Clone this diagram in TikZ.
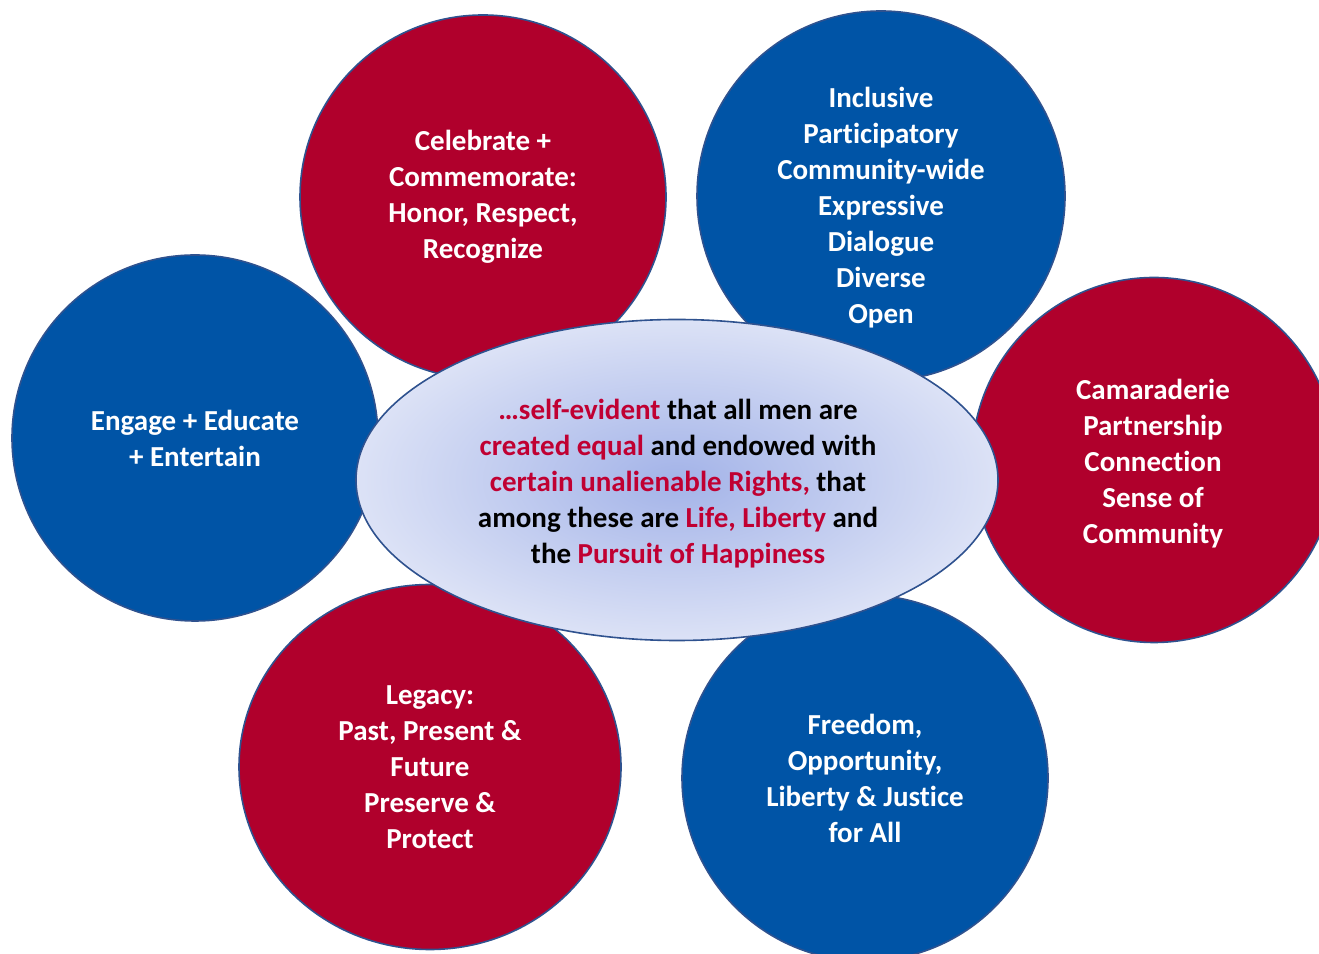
\documentclass[tikz,border=0pt]{standalone}
\usepackage{fontspec}
\setmainfont{Carlito}[Ligatures=NoCommon]
\usetikzlibrary{shapes.geometric,calc}
\definecolor{bred}{RGB}{176,0,44}
\definecolor{bblue}{RGB}{0,84,166}
\definecolor{edge}{RGB}{47,82,143}
\definecolor{tred}{RGB}{192,0,50}
\definecolor{ellin}{RGB}{163,179,232}
\definecolor{ellout}{RGB}{220,226,246}
\tikzset{
  bubble/.style={ellipse, draw=edge, line width=1.6pt, inner sep=0pt,
    text=white, align=center, font=\bfseries\fontsize{29}{36}\selectfont},
  redb/.style={bubble, fill=bred},
  blueb/.style={bubble, fill=bblue},
  txt/.style={text=white, align=center, font=\bfseries\fontsize{29}{36}\selectfont},
  center/.style={ellipse, draw=edge, line width=1.6pt, inner sep=0pt,
    inner color=ellin, outer color=ellout},
  ctxt/.style={align=center, font=\bfseries\fontsize{29}{36}\selectfont}
}
\begin{document}
\begin{tikzpicture}[x=1pt,y=1pt]
\useasboundingbox (0,0) rectangle (1319,953);
% circles (y = 953 - pixel y)
\node[redb, minimum width=366pt, minimum height=364pt] (tl) at (483,756)
  {Celebrate +\\Commemorate:\\Honor, Respect,\\Recognize};
\node[blueb, minimum width=368pt, minimum height=370pt] (tr) at (881,757) {};
\node[txt] (trtext) at (881,745)
  {Inclusive\\Participatory\\Community-wide\\Expressive\\Dialogue\\Diverse\\Open};
\node[blueb, minimum width=366pt, minimum height=366pt] (lft) at (195,515)
  {Engage + Educate\\+ Entertain};
\node[redb, minimum width=364pt, minimum height=365pt] (rgt) at (1154,493) {};
\node[txt] (rgttext) at (1153,489)
  {Camaraderie\\Partnership\\Connection\\Sense of\\Community};
\node[redb, minimum width=382pt, minimum height=365pt] (bl) at (430,186)
  {Legacy:\\Past, Present \&\\Future\\Preserve \&\\Protect};
\node[blueb, minimum width=366pt, minimum height=366pt] (br) at (865,175)
  {Freedom,\\Opportunity,\\Liberty \& Justice\\for All};
% central ellipse
\node[center, minimum width=642pt, minimum height=321pt] (mid) at (677,473) {};
\node[ctxt] (midtext) at (678,469)
  {\textcolor{tred}{\ldots self-evident} that all men are\\
   \textcolor{tred}{created equal} and endowed with\\
   \textcolor{tred}{certain unalienable Rights,} that\\
   among these are \textcolor{tred}{Life, Liberty} and\\
   the \textcolor{tred}{Pursuit of Happiness}};
\end{tikzpicture}
\end{document}
